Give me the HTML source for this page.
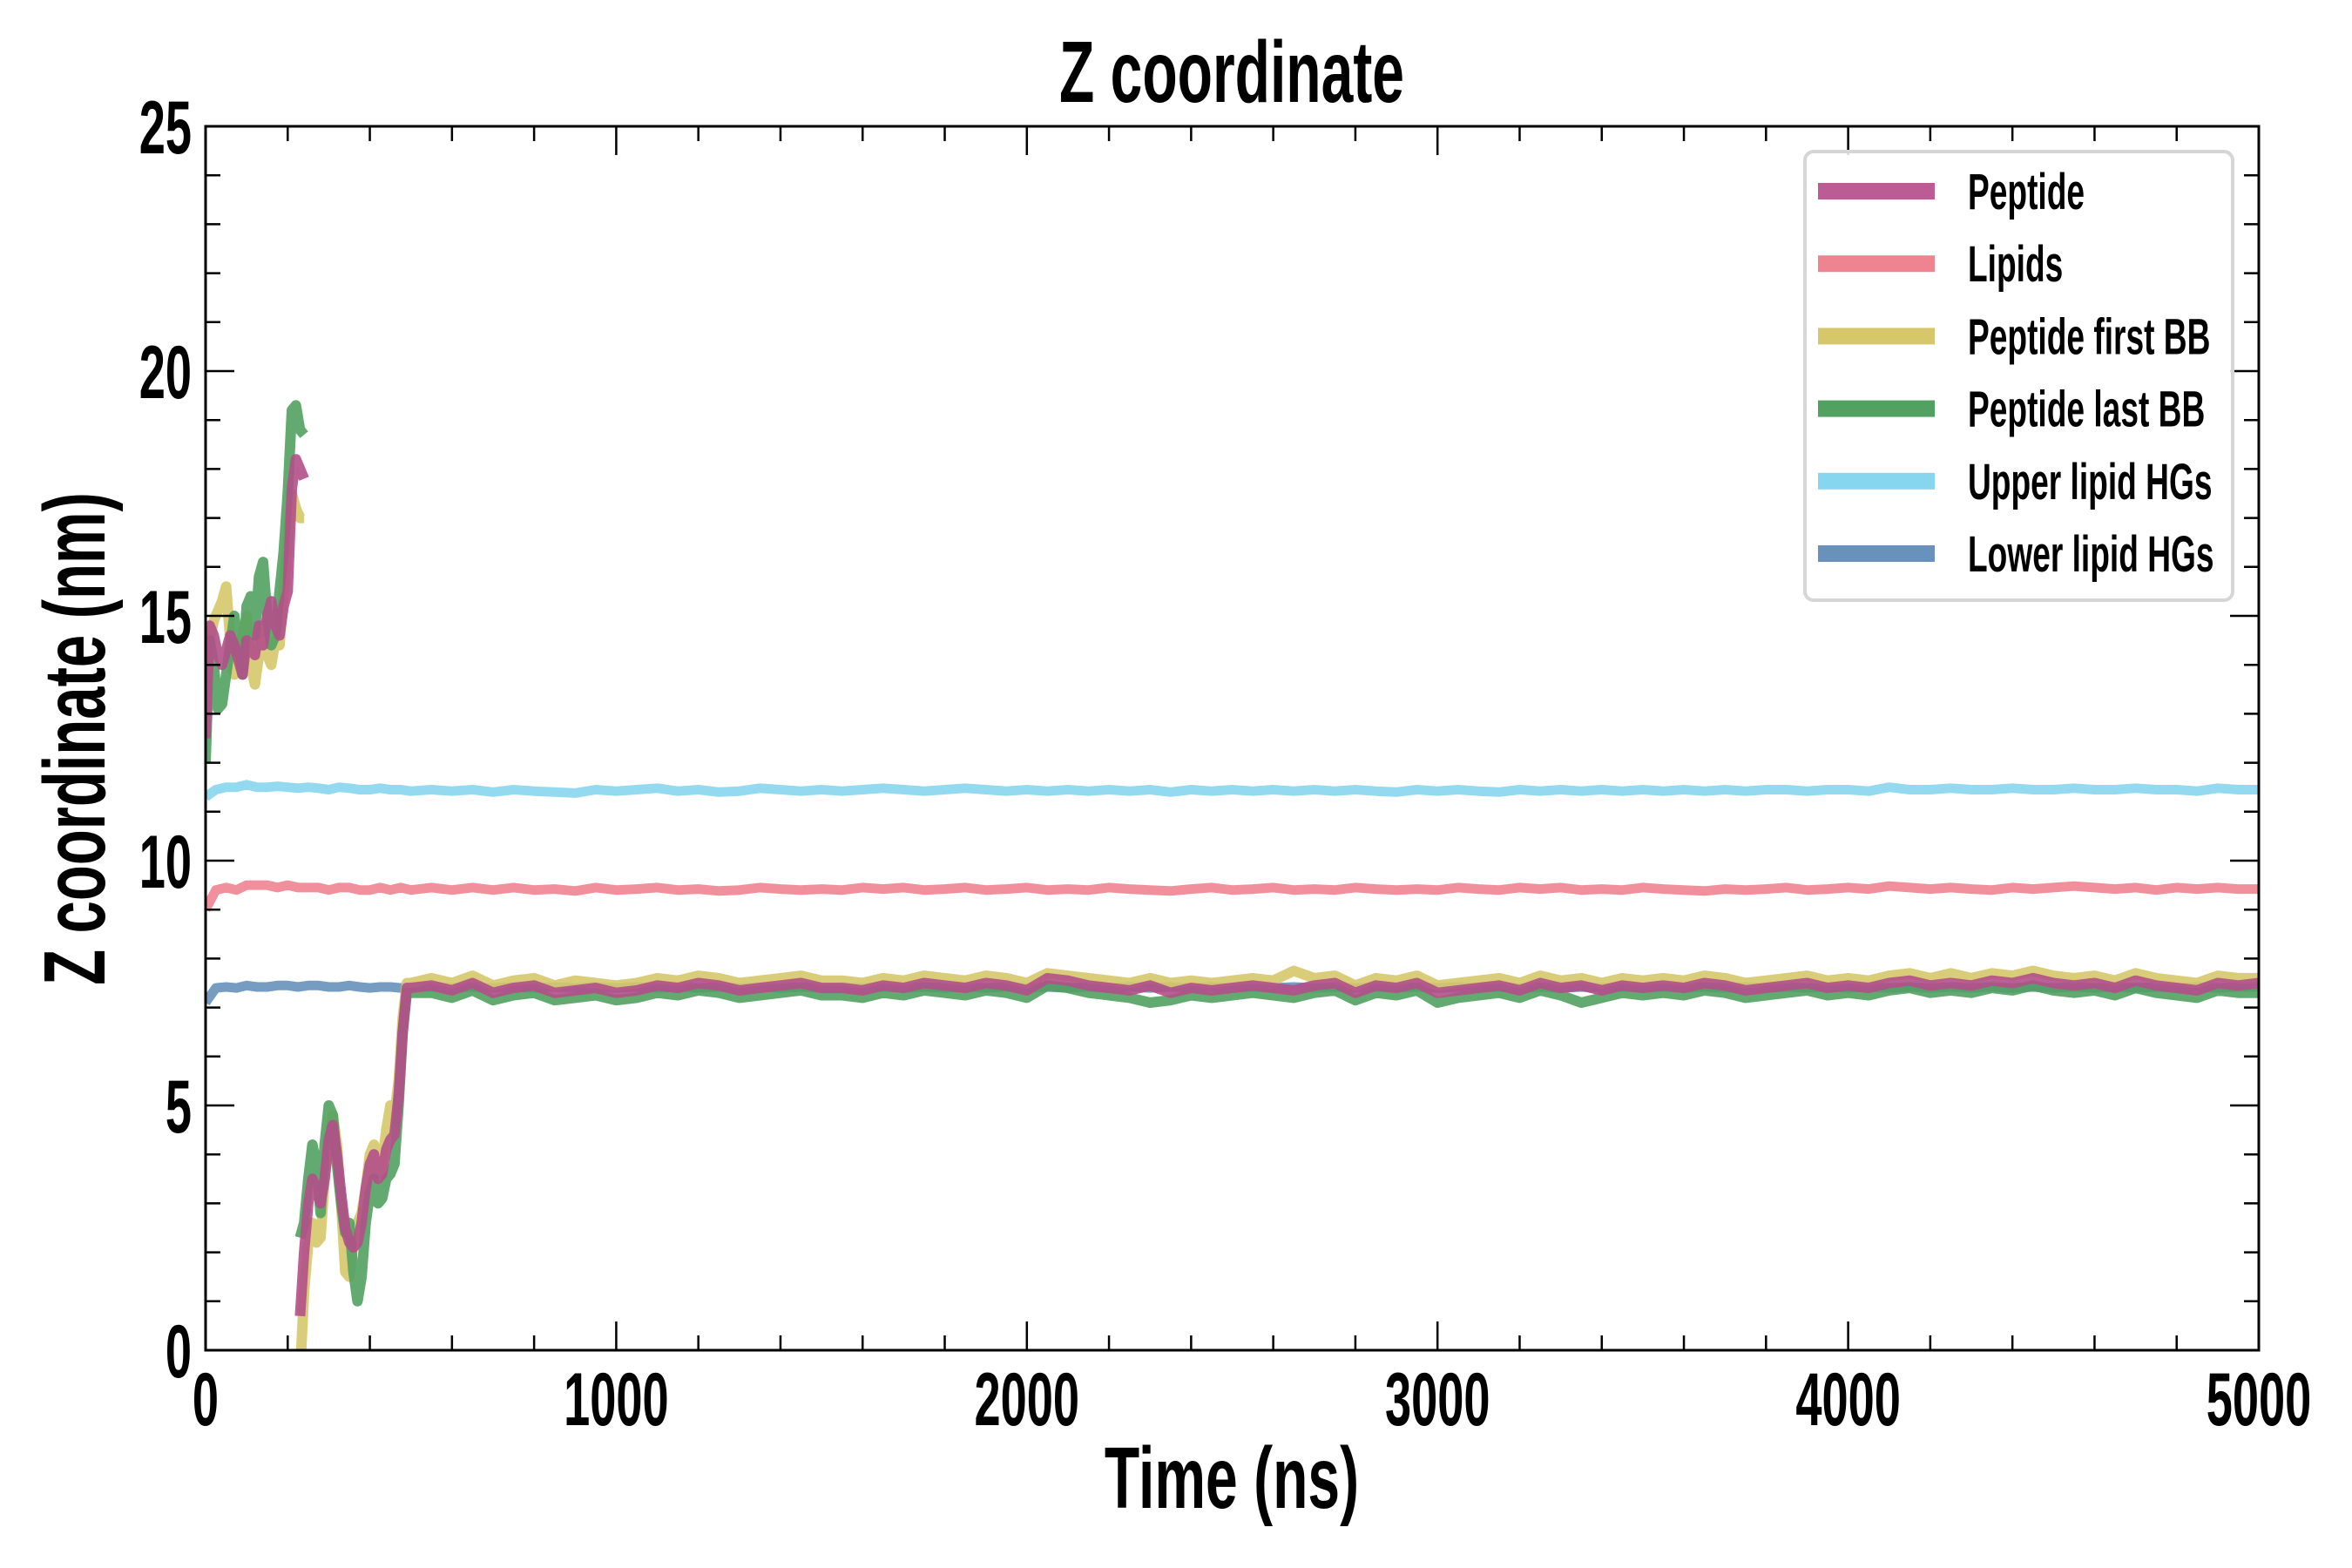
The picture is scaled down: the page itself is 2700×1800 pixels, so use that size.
<!DOCTYPE html>
<html><head><meta charset="utf-8">
<style>
html,body{margin:0;padding:0;background:#fff;}
svg{display:block;}
text{font-family:"Liberation Sans Narrow","Liberation Sans",sans-serif;font-weight:bold;fill:#000;}
</style></head>
<body>
<svg id="chart" width="2700" height="1800" viewBox="0 0 2700 1800" xmlns="http://www.w3.org/2000/svg">
<rect x="0" y="0" width="2700" height="1800" fill="#fff"/>
<g id="series"></g>
<g id="axes"></g>
<text x="0" y="0" font-size="100" text-anchor="middle" transform="translate(1414,117) scale(0.66,1)">Z coordinate</text>
<text x="0" y="0" font-size="100" text-anchor="middle" transform="translate(1414,1731) scale(0.66,1)">Time (ns)</text>
<text x="0" y="0" font-size="100" text-anchor="middle" transform="translate(120,848) rotate(-90) scale(0.67,1)">Z coordinate (nm)</text>
<g id="legend"></g>
</svg>
<script>
// ---- data ----
const xTicks = [0,1000,2000,3000,4000,5000];
const xTickLabels = ["0","1000","2000","3000","4000","5000"];
const yTicks = [0,5,10,15,20,25];
const yTickLabels = ["0","5","10","15","20","25"];
const seriesNames = ["Peptide","Lipids","Peptide first BB","Peptide last BB","Upper lipid HGs","Lower lipid HGs"];

const timePeptide = [0,10,20,30,40,50,60,70,80,90,100,110,120,130,140,150,160,170,180,190,200,210,220,230,240,null,
230,240,250,260,270,280,290,300,310,320,330,340,350,360,370,380,390,400,410,420,430,440,450,460,470,480,490,500,
550,600,650,700,750,800,850,900,950,1000,1050,1100,1150,1200,1250,1300,1350,1400,1450,1500,
1550,1600,1650,1700,1750,1800,1850,1900,1950,2000,2050,2100,2150,2200,2250,2300,2350,2400,2450,2500,
2550,2600,2650,2700,2750,2800,2850,2900,2950,3000,3050,3100,3150,3200,3250,3300,3350,3400,3450,3500,
3550,3600,3650,3700,3750,3800,3850,3900,3950,4000,4050,4100,4150,4200,4250,4300,4350,4400,4450,4500,
4550,4600,4650,4700,4750,4800,4850,4900,4950,5000];

const peptide = [12.5,14.8,14.6,14.2,14.0,14.3,14.6,14.4,14.1,13.8,14.5,14.4,14.2,14.8,14.4,15.0,15.3,14.8,14.6,15.2,15.5,17.6,18.2,18.0,17.8,null,
0.7,2.0,3.0,3.5,3.3,3.0,3.5,4.3,4.6,4.0,3.2,2.5,2.2,2.1,2.2,2.6,3.3,3.8,4.0,3.5,3.6,4.1,4.3,4.4,5.2,6.5,7.4,7.4,
7.45,7.35,7.5,7.3,7.4,7.45,7.3,7.35,7.4,7.3,7.35,7.45,7.4,7.5,7.45,7.35,7.4,7.45,7.5,7.4,
7.4,7.35,7.45,7.4,7.5,7.45,7.4,7.5,7.45,7.35,7.6,7.55,7.45,7.4,7.35,7.45,7.3,7.4,7.35,7.4,
7.45,7.4,7.35,7.45,7.5,7.3,7.45,7.4,7.5,7.3,7.35,7.4,7.45,7.35,7.5,7.4,7.45,7.35,7.45,7.4,
7.45,7.4,7.5,7.45,7.35,7.4,7.45,7.5,7.4,7.45,7.4,7.5,7.55,7.45,7.5,7.45,7.55,7.5,7.6,7.5,
7.45,7.5,7.4,7.55,7.45,7.4,7.35,7.5,7.45,7.5];

const firstBB = [13.5,14.5,14.9,15.1,15.3,15.6,14.5,13.8,14.0,14.6,15.0,14.0,13.6,14.2,14.8,14.2,14.0,14.5,14.4,15.5,16.5,17.5,17.2,17.0,17.0,null,
-0.5,1.2,2.2,2.6,2.2,2.3,3.5,4.2,4.8,4.2,3.0,1.6,1.5,2.2,2.6,2.8,3.3,4.0,4.2,3.6,3.8,4.5,5.0,4.8,5.5,6.8,7.5,7.5,
7.6,7.5,7.65,7.45,7.55,7.6,7.45,7.55,7.5,7.45,7.5,7.6,7.55,7.65,7.6,7.5,7.55,7.6,7.65,7.55,
7.55,7.5,7.6,7.55,7.65,7.6,7.55,7.65,7.6,7.5,7.7,7.65,7.6,7.55,7.5,7.6,7.5,7.55,7.5,7.55,
7.6,7.55,7.75,7.6,7.65,7.45,7.6,7.55,7.65,7.45,7.5,7.55,7.6,7.5,7.65,7.55,7.6,7.5,7.6,7.55,
7.6,7.55,7.65,7.6,7.5,7.55,7.6,7.65,7.55,7.6,7.55,7.65,7.7,7.6,7.7,7.6,7.7,7.65,7.75,7.65,
7.6,7.65,7.55,7.7,7.6,7.55,7.5,7.65,7.6,7.6];

const lastBB = [12.0,14.5,14.0,13.1,13.2,13.8,14.4,15.0,14.4,13.8,15.2,15.4,14.6,15.8,16.1,15.0,14.4,14.6,15.5,16.3,17.5,19.2,19.3,18.8,18.7,null,
2.3,2.6,3.5,4.2,3.8,2.8,4.2,5.0,4.8,3.8,3.0,2.4,2.6,1.6,1.0,1.5,2.6,3.2,3.5,3.0,3.1,3.5,3.6,3.8,5.0,6.5,7.3,7.3,
7.3,7.2,7.35,7.15,7.25,7.3,7.15,7.2,7.25,7.15,7.2,7.3,7.25,7.35,7.3,7.2,7.25,7.3,7.35,7.25,
7.25,7.2,7.3,7.25,7.35,7.3,7.25,7.35,7.3,7.2,7.45,7.4,7.3,7.25,7.2,7.1,7.15,7.25,7.2,7.25,
7.3,7.25,7.2,7.3,7.35,7.15,7.3,7.25,7.35,7.1,7.2,7.25,7.3,7.2,7.35,7.25,7.1,7.2,7.3,7.25,
7.3,7.25,7.35,7.3,7.2,7.25,7.3,7.35,7.25,7.3,7.25,7.35,7.4,7.3,7.35,7.3,7.4,7.35,7.45,7.35,
7.3,7.35,7.25,7.4,7.3,7.25,7.2,7.35,7.3,7.3];

const timeLipid = [0,25,50,75,100,125,150,175,200,225,250,275,300,325,350,375,400,425,450,475,500,
550,600,650,700,750,800,850,900,950,1000,1050,1100,1150,1200,1250,1300,1350,1400,1450,1500,
1550,1600,1650,1700,1750,1800,1850,1900,1950,2000,2050,2100,2150,2200,2250,2300,2350,2400,2450,2500,
2550,2600,2650,2700,2750,2800,2850,2900,2950,3000,3050,3100,3150,3200,3250,3300,3350,3400,3450,3500,
3550,3600,3650,3700,3750,3800,3850,3900,3950,4000,4050,4100,4150,4200,4250,4300,4350,4400,4450,4500,
4550,4600,4650,4700,4750,4800,4850,4900,4950,5000];

const lipids = [9.0,9.4,9.45,9.4,9.5,9.5,9.5,9.45,9.5,9.45,9.45,9.45,9.4,9.45,9.45,9.4,9.4,9.45,9.4,9.45,9.4,
9.45,9.4,9.45,9.4,9.45,9.4,9.42,9.38,9.45,9.4,9.42,9.45,9.4,9.42,9.38,9.4,9.45,9.42,9.4,9.42,
9.4,9.45,9.42,9.45,9.4,9.42,9.45,9.4,9.42,9.45,9.4,9.42,9.4,9.45,9.42,9.4,9.38,9.42,9.45,9.4,
9.42,9.45,9.4,9.42,9.4,9.45,9.42,9.4,9.42,9.4,9.45,9.42,9.4,9.45,9.42,9.45,9.4,9.42,9.4,9.45,
9.42,9.4,9.38,9.42,9.4,9.42,9.45,9.4,9.42,9.45,9.42,9.48,9.45,9.42,9.45,9.42,9.4,9.45,9.42,9.45,
9.48,9.45,9.42,9.45,9.4,9.45,9.42,9.45,9.42,9.42];

const upperHG = [11.3,11.45,11.5,11.5,11.55,11.5,11.5,11.52,11.5,11.48,11.5,11.48,11.45,11.5,11.48,11.45,11.45,11.48,11.45,11.45,11.42,
11.45,11.42,11.45,11.4,11.45,11.42,11.4,11.38,11.45,11.42,11.45,11.48,11.42,11.45,11.4,11.42,11.48,11.45,11.42,11.45,
11.42,11.45,11.48,11.45,11.42,11.45,11.48,11.45,11.42,11.45,11.42,11.45,11.42,11.45,11.42,11.45,11.4,11.45,11.42,11.45,
11.42,11.45,11.42,11.45,11.42,11.45,11.42,11.4,11.45,11.42,11.45,11.42,11.4,11.45,11.42,11.45,11.42,11.45,11.42,11.45,
11.42,11.45,11.42,11.45,11.42,11.45,11.45,11.42,11.45,11.45,11.42,11.5,11.45,11.45,11.48,11.45,11.45,11.48,11.45,11.45,
11.48,11.45,11.45,11.48,11.45,11.45,11.42,11.48,11.45,11.45];

const lowerHG = [7.1,7.4,7.42,7.4,7.45,7.42,7.42,7.45,7.45,7.42,7.45,7.45,7.42,7.42,7.45,7.42,7.4,7.42,7.42,7.4,7.42,
7.42,7.4,7.42,7.4,7.42,7.4,7.42,7.4,7.42,7.4,7.42,7.4,7.42,7.4,7.42,7.4,7.42,7.4,7.42,7.4,
7.42,7.4,7.42,7.4,7.42,7.4,7.42,7.4,7.42,7.4,7.42,7.4,7.42,7.4,7.42,7.4,7.42,7.4,7.42,7.4,
7.42,7.4,7.42,7.4,7.42,7.4,7.42,7.4,7.42,7.4,7.42,7.4,7.42,7.4,7.42,7.4,7.42,7.4,7.42,7.4,
7.42,7.4,7.42,7.4,7.42,7.4,7.42,7.4,7.42,7.4,7.42,7.4,7.42,7.4,7.42,7.4,7.42,7.4,7.42,7.4,
7.42,7.4,7.42,7.4,7.42,7.4,7.42,7.4,7.42,7.42];

// ---- layout ----
const L = 236, R = 2593, T = 145, B = 1550;
const xMin = 0, xMax = 5000, yMin = 0, yMax = 25;
function xs(v){ return L + (v - xMin) / (xMax - xMin) * (R - L); }
function ys(v){ return B - (v - yMin) / (yMax - yMin) * (B - T); }
const NS = "http://www.w3.org/2000/svg";

function pathFrom(times, vals){
  let d = "", pen = false;
  for (let i = 0; i < vals.length; i++){
    if (vals[i] === null || times[i] === null){ pen = false; continue; }
    d += (pen ? "L" : "M") + xs(times[i]).toFixed(1) + "," + ys(vals[i]).toFixed(1);
    pen = true;
  }
  return d;
}

const clip = document.createElementNS(NS, "clipPath");
clip.setAttribute("id", "plotclip");
const cr = document.createElementNS(NS, "rect");
cr.setAttribute("x", L); cr.setAttribute("y", T); cr.setAttribute("width", R - L); cr.setAttribute("height", B - T);
clip.appendChild(cr);
document.getElementById("chart").appendChild(clip);

const seriesLayer = document.getElementById("series");
seriesLayer.setAttribute("clip-path", "url(#plotclip)");
const drawList = [
  ["lipids-line", timeLipid, lipids, "#ef8491", 11],
  ["upper-lipid-hgs-line", timeLipid, upperHG, "#87d6f0", 11],
  ["lower-lipid-hgs-line", timeLipid, lowerHG, "#6891bb", 11],
  ["peptide-first-bb-line", timePeptide, firstBB, "#d6c86a", 12],
  ["peptide-last-bb-line", timePeptide, lastBB, "#51a160", 12],
  ["peptide-line", timePeptide, peptide, "#b24f88", 12]
];
drawList.forEach(s => {
  const p = document.createElementNS(NS, "path");
  p.setAttribute("d", pathFrom(s[1], s[2]));
  p.setAttribute("fill", "none");
  p.setAttribute("stroke", s[3]);
  p.setAttribute("stroke-width", s[4]);
  p.setAttribute("stroke-opacity", "0.9");
  p.setAttribute("stroke-linejoin", "round");
  
  
  seriesLayer.appendChild(p);
});

// ---- axes ----
const axes = document.getElementById("axes");
function line(x1,y1,x2,y2,w,name){
  const l = document.createElementNS(NS, "line");
  l.setAttribute("x1",x1); l.setAttribute("y1",y1); l.setAttribute("x2",x2); l.setAttribute("y2",y2);
  l.setAttribute("stroke","#000"); l.setAttribute("stroke-width",w);
  
  
  axes.appendChild(l);
}
function txt(x,y,s,anchor,size,sx,name){
  const t = document.createElementNS(NS, "text");
  t.setAttribute("x",0); t.setAttribute("y",0); t.setAttribute("text-anchor",anchor);
  t.setAttribute("transform", "translate(" + x + "," + y + ") scale(" + sx + ",1)");
  t.setAttribute("font-size",size); t.textContent = s;
  
  
  axes.appendChild(t);
}
const frame = document.createElementNS(NS, "rect");
frame.setAttribute("x", L); frame.setAttribute("y", T); frame.setAttribute("width", R - L); frame.setAttribute("height", B - T);
frame.setAttribute("fill", "none"); frame.setAttribute("stroke", "#000"); frame.setAttribute("stroke-width", 3);


axes.appendChild(frame);

for (let v = 0; v <= 5000; v += 200){
  const major = v % 1000 === 0, len = major ? 33 : 17, x = xs(v);
  line(x, B, x, B - len, 2.5, "x-tick");
  line(x, T, x, T + len, 2.5, "x-tick-top");
}
for (let v = 0; v <= 25; v += 1){
  const major = v % 5 === 0, len = major ? 33 : 17, y = ys(v);
  line(L, y, L + len, y, 2.5, "y-tick");
  line(R, y, R - len, y, 2.5, "y-tick-right");
}
xTicks.forEach((v,i) => txt(xs(v), 1636, xTickLabels[i], "middle", 86, 0.63, "x-tick-label"));
yTicks.forEach((v,i) => txt(220, ys(v) + 31, yTickLabels[i], "end", 86, 0.63, "y-tick-label"));

// ---- legend ----
const legend = document.getElementById("legend");
const lb = document.createElementNS(NS, "rect");
lb.setAttribute("x", 2072); lb.setAttribute("y", 174); lb.setAttribute("width", 491); lb.setAttribute("height", 515);
lb.setAttribute("rx", 10); lb.setAttribute("fill", "#fff"); lb.setAttribute("fill-opacity", "0.85");
lb.setAttribute("stroke", "#d6d6d6"); lb.setAttribute("stroke-width", 4);


legend.appendChild(lb);
const legendColors = ["#bb5c94","#ef8491","#d6c86a","#51a160","#87d6f0","#6891bb"];
seriesNames.forEach((n,i) => {
  const y = 219 + i * 83.2;
  const sw = document.createElementNS(NS, "rect");
  sw.setAttribute("x", 2087); sw.setAttribute("y", y - 9); sw.setAttribute("width", 134); sw.setAttribute("height", 19);
  sw.setAttribute("fill", legendColors[i]);
  
  
  legend.appendChild(sw);
  const t = document.createElementNS(NS, "text");
  t.setAttribute("x", 0); t.setAttribute("y", 0); t.setAttribute("font-size", 58);
  t.setAttribute("transform", "translate(2259," + (y + 21) + ") scale(0.64,1)");
  t.textContent = n;
  
  
  legend.appendChild(t);
});
</script>
</body></html>
